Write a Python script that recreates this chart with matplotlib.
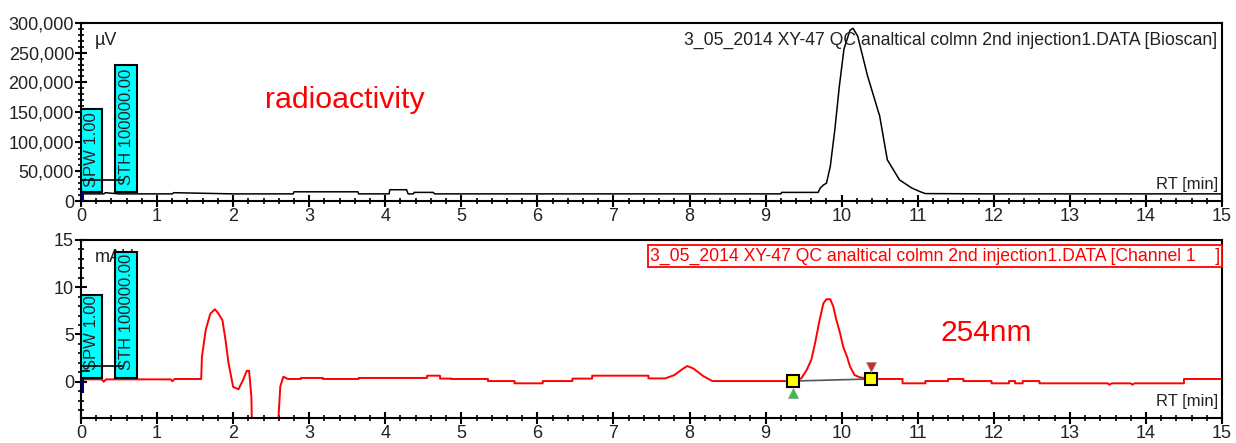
#####################################################################################
import matplotlib
matplotlib.use("Agg")
import matplotlib.pyplot as plt
from matplotlib.patches import Rectangle
from matplotlib.ticker import MultipleLocator, FuncFormatter

#####################################################################################
# radioactivity trace (Bioscan), RT [min] vs µV
rad_rt = [0.0, 0.3, 0.32, 0.5, 1.2, 1.22, 2.0, 2.79, 2.8, 3.64, 3.65, 4.05, 4.06,
          4.28, 4.3, 4.37, 4.38, 4.63, 4.65, 5.5, 6.5, 7.5, 8.5, 9.2, 9.21, 9.69,
          9.72, 9.76, 9.80, 9.85, 9.91, 9.97, 10.03, 10.11, 10.15, 10.21, 10.34,
          10.50, 10.60, 10.76, 10.92, 11.03, 11.1, 12.0, 13.0, 14.0, 15.0]
rad_uv = [12000, 12000, 14000, 12000, 12000, 14000, 12000, 12000, 15500, 15500,
          12000, 12000, 19000, 19000, 12000, 12000, 14500, 14500, 12000, 12000,
          12000, 12000, 12000, 12000, 14500, 14500, 22000, 27000, 30000, 58000,
          120000, 194000, 256000, 288000, 291000, 278000, 211000, 143000, 69500,
          35600, 22000, 15800, 12500, 12000, 12000, 12000, 12000]

# UV trace (Channel 1, 254 nm), RT [min] vs mAU
uv_rt = [0.0, 0.27, 0.3, 0.33, 1.18, 1.2, 1.23, 1.58, 1.59, 1.64, 1.70, 1.76,
         1.80, 1.86, 1.90, 1.94, 2.00, 2.07, 2.13, 2.18, 2.21, 2.24, 2.25, 2.58,
         2.62, 2.66, 2.72, 2.89, 2.89, 3.18, 3.18, 3.65, 3.65, 4.55, 4.55, 4.72,
         4.72, 4.87, 4.87, 5.35, 5.35, 5.70, 5.70, 6.07, 6.07, 6.46, 6.46, 6.72,
         6.72, 7.46, 7.46, 7.68, 7.80, 7.90, 7.97, 8.05, 8.18, 8.30, 9.36,
         9.47, 9.54, 9.60, 9.65, 9.71, 9.76, 9.80, 9.85, 9.89, 9.93, 9.98, 10.02,
         10.07, 10.11, 10.17, 10.24, 10.38, 10.80, 10.80, 11.10, 11.10, 11.40,
         11.40, 11.60, 11.60, 11.97, 11.97, 12.20, 12.20, 12.28, 12.28, 12.38,
         12.38, 12.60, 12.60, 13.50, 13.52, 13.55, 13.80, 13.82, 13.85, 14.50,
         14.50, 15.0]
uv_mau = [0.25, 0.25, 0.0, 0.25, 0.25, 0.05, 0.29, 0.29, 2.65, 5.5, 7.2, 7.67,
          7.3, 6.5, 4.4, 1.95, -0.55, -0.8, 0.18, 1.16, 1.16, -1.6, -6.0, -6.0,
          -0.5, 0.53, 0.29, 0.29, 0.4, 0.4, 0.29, 0.29, 0.4, 0.4, 0.64, 0.64,
          0.33, 0.33, 0.29, 0.29, 0.07, 0.07, -0.17, -0.17, 0.07, 0.07, 0.33,
          0.33, 0.64, 0.64, 0.35, 0.35, 0.7, 1.3, 1.66, 1.4, 0.6, 0.07, 0.07,
          0.36, 1.24, 2.3, 4.07, 6.54, 8.3, 8.73, 8.73, 7.94, 6.54, 5.1, 3.7,
          2.65, 1.6, 0.7, 0.46, 0.29, 0.29, -0.17, -0.17, 0.07, 0.07,
          0.29, 0.29, 0.07, 0.07, -0.17, -0.17, 0.07, 0.07, -0.17, -0.17,
          0.07, 0.07, -0.17, -0.17, -0.32, -0.17, -0.17, -0.32, -0.17, -0.17,
          0.29, 0.29]

# integration markers of the 254 nm peak
peak_start = (9.36, 0.07)
peak_end = (10.38, 0.29)

title_rad = "3_05_2014 XY-47 QC analtical colmn 2nd injection1.DATA [Bioscan]"
title_uv = "3_05_2014 XY-47 QC analtical colmn 2nd injection1.DATA [Channel 1    ]"

#####################################################################################
plt.rcParams["font.family"] = ["Liberation Sans", "DejaVu Sans"]
TXT = "#222222"
CYAN = "#00FFFF"

fig = plt.figure(figsize=(12.36, 4.43), dpi=100)
W, H = 1236, 443
ax1 = fig.add_axes([81 / W, 1 - 201 / H, (1222 - 81) / W, (201 - 23) / H])
ax2 = fig.add_axes([81 / W, 1 - 418 / H, (1222 - 81) / W, (418 - 240) / H])


# -----------------------------------------------------------------------------------
def style_axis(ax):
    for sp in ax.spines.values():
        sp.set_linewidth(1.5)
        sp.set_color("black")
    ax.set_xlim(0, 15)
    ax.xaxis.set_major_locator(MultipleLocator(1))
    ax.xaxis.set_minor_locator(MultipleLocator(0.2))
    ax.tick_params(which="major", direction="inout", length=8, width=1.5,
                   labelsize=13, labelcolor=TXT, pad=1)
    ax.tick_params(which="minor", direction="inout", length=5, width=1.2)
    ax.tick_params(top=False, right=False, which="both")
    ax.text(0.9965, 0.09, "RT [min]", transform=ax.transAxes, ha="right",
            va="center", fontsize=12, color=TXT)


def cyan_box(ax, x0, x1, y0, y1, label, text_y):
    rect = Rectangle((x0, y0), x1 - x0, y1 - y0, facecolor=CYAN,
                     edgecolor="black", linewidth=1.5, zorder=3)
    ax.add_patch(rect)
    t = ax.text((x0 + x1) / 2, text_y, label, rotation=90, rotation_mode="anchor",
                ha="left", va="center", fontsize=12, color=TXT, zorder=4)
    t.set_clip_path(rect)


# -----------------------------------------------------------------------------------
# top panel: radioactivity
ax1.plot(rad_rt, rad_uv, color="black", linewidth=1.1, zorder=2)
ax1.set_ylim(0, 300000)
ax1.yaxis.set_major_locator(MultipleLocator(50000))
ax1.yaxis.set_minor_locator(MultipleLocator(10000))
ax1.yaxis.set_major_formatter(FuncFormatter(lambda v, p: f"{v:,.0f}"))
style_axis(ax1)

cyan_box(ax1, 0.0, 0.28, 15800, 155400, "SPW 1.00", 24000)
cyan_box(ax1, 0.45, 0.74, 15800, 228800, "STH 100000.00", 27000)
ax1.plot([0.0, 0.55], [35600, 35600], color="black", linewidth=1.2, zorder=5)
ax1.plot([0.02, 0.02], [0, 15000], color="navy", linewidth=1.5, zorder=5)

ax1.text(0.9956, 0.904, title_rad, transform=ax1.transAxes, ha="right",
         va="center", fontsize=12.7, color=TXT)
ax1.text(0.0123, 0.904, "µV", transform=ax1.transAxes, ha="left",
         va="center", fontsize=13, color=TXT)
ax1.text(0.161, 0.567, "radioactivity", transform=ax1.transAxes, ha="left",
         va="center", fontsize=21.8, color="red")

# -----------------------------------------------------------------------------------
# bottom panel: UV 254 nm
ax2.plot(uv_rt, uv_mau, color="red", linewidth=1.4, zorder=2)
ax2.set_ylim(-3.84, 15)
ax2.yaxis.set_major_locator(MultipleLocator(5))
ax2.yaxis.set_minor_locator(MultipleLocator(1))
style_axis(ax2)

cyan_box(ax2, 0.0, 0.28, 0.36, 9.18, "SPW 1.00", 1.24)
cyan_box(ax2, 0.45, 0.74, 0.36, 13.77, "STH 100000.00", 1.24)
ax2.plot([0.0, 0.55], [1.7, 1.7], color="black", linewidth=1.2, zorder=5)
ax2.plot([0.0, 0.1], [1.17, 1.17], color="black", linewidth=1.2, zorder=5)
ax2.plot([0.03, 0.03], [0.2, -1.1], color="navy", linewidth=1.5, zorder=5)

# baseline of integrated peak
ax2.plot([peak_start[0], peak_end[0]], [peak_start[1], peak_end[1]],
         color="#555555", linewidth=1.2, zorder=3)
ax2.plot([peak_start[0], peak_end[0]], [peak_start[1], peak_end[1]], "s",
         markersize=9, markerfacecolor="yellow", markeredgecolor="black",
         markeredgewidth=1.5, zorder=4)
ax2.plot(peak_start[0], peak_start[1] - 1.3, "^", markersize=7, color="#22cc44",
         markeredgecolor="#999999", markeredgewidth=0.6, zorder=4)
ax2.plot(peak_end[0], peak_end[1] + 1.3, "v", markersize=7, color="#dd2222",
         markeredgecolor="#999999", markeredgewidth=0.6, zorder=4)

ax2.text(0.4987, 0.91, title_uv, transform=ax2.transAxes, ha="left",
         va="center", fontsize=12.7, color="red",
         bbox=dict(boxstyle="square,pad=0.12", facecolor="white",
                   edgecolor="red", linewidth=1.3))
ax2.text(0.0123, 0.899, "mAU", transform=ax2.transAxes, ha="left",
         va="center", fontsize=13, color=TXT, zorder=2)
ax2.text(0.753, 0.478, "254nm", transform=ax2.transAxes, ha="left",
         va="center", fontsize=21.5, color="red")

fig.savefig("out.png", dpi=100)
#####################################################################################
